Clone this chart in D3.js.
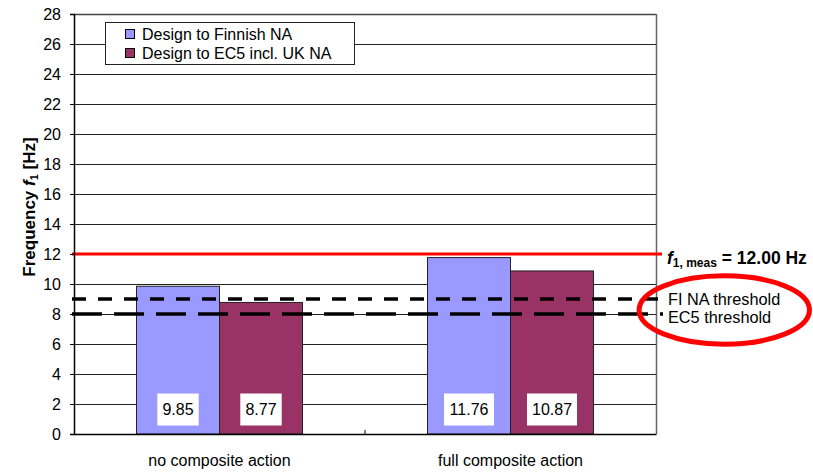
<!DOCTYPE html>
<html>
<head>
<meta charset="utf-8">
<script src="https://cdn.jsdelivr.net/npm/d3@7"></script>
<style>
  html, body { margin: 0; padding: 0; background: #fff; }
  svg { display: block; font-family: Arial, "Liberation Sans", sans-serif; }
</style>
</head>
<body>
<svg id="chart" width="813" height="472"></svg>
<script>
// Natural frequency f1 of the floor for two design approaches
const categories = ["no composite action", "full composite action"];
const seriesNames = ["Design to Finnish NA", "Design to EC5 incl. UK NA"];
const finnishValues = [9.85, 11.76];
const ec5Values = [8.77, 10.87];
const yTicks = [0, 2, 4, 6, 8, 10, 12, 14, 16, 18, 20, 22, 24, 26, 28];
const measuredFrequency = 12.00;
const fiThreshold = 9;
const ec5Threshold = 8;
const thresholdLabels = ["FI NA threshold", "EC5 threshold"];

const seriesColors = ["#9999FF", "#993366"];
const values = [finnishValues, ec5Values];

const svg = d3.select("#chart");
const plotLeft = 74, plotRight = 656, plotTop = 14, plotBottom = 434;

const y = d3.scaleLinear().domain([0, 28]).range([plotBottom, plotTop]);
const x0 = d3.scaleBand().domain(categories).range([plotLeft, plotRight]).paddingInner(0).paddingOuter(0);
const groupWidth = 166;
const x1 = d3.scaleBand().domain(seriesNames).range([0, groupWidth]);
const groupX = c => x0(c) + (x0.bandwidth() - groupWidth) / 2;

// Horizontal gridlines
svg.append("g")
  .selectAll("line")
  .data(yTicks.filter(t => t > 0))
  .join("line")
  .attr("x1", plotLeft).attr("x2", plotRight)
  .attr("y1", d => Math.round(y(d)) + 0.5).attr("y2", d => Math.round(y(d)) + 0.5)
  .attr("stroke", d => d === 28 ? "#444" : "#222")
  .attr("stroke-width", d => d === 28 ? 1.5 : 1);

// Right frame edge
svg.append("line")
  .attr("x1", plotRight + 0.5).attr("x2", plotRight + 0.5)
  .attr("y1", plotTop).attr("y2", plotBottom)
  .attr("stroke", "#666").attr("stroke-width", 1.5);

// Bars
const barData = [];
categories.forEach((c, i) => {
  seriesNames.forEach((s, j) => barData.push({ cat: c, series: s, idx: j, value: values[j][i] }));
});

svg.append("g")
  .selectAll("rect")
  .data(barData)
  .join("rect")
  .attr("x", d => groupX(d.cat) + x1(d.series))
  .attr("y", d => y(d.value))
  .attr("width", x1.bandwidth())
  .attr("height", d => y(0) - y(d.value))
  .attr("fill", d => seriesColors[d.idx])
  .attr("stroke", "#222")
  .attr("stroke-width", 1);

// Value labels in white boxes
const labelG = svg.append("g")
  .selectAll("g")
  .data(barData)
  .join("g")
  .attr("transform", d => `translate(${groupX(d.cat) + x1(d.series) + x1.bandwidth() / 2},${409.5})`);

labelG.append("rect")
  .attr("x", d => -(d.value.toFixed(2).length * 4.3 + 3.5))
  .attr("y", -16)
  .attr("width", d => 2 * (d.value.toFixed(2).length * 4.3 + 3.5))
  .attr("height", 32)
  .attr("fill", "#fff");

labelG.append("text")
  .attr("text-anchor", "middle")
  .attr("dy", "0.35em")
  .attr("font-size", 16)
  .attr("fill", "#000")
  .text(d => d.value.toFixed(2));

// Measured frequency line
svg.append("line")
  .attr("x1", 72).attr("x2", 662)
  .attr("y1", y(measuredFrequency)).attr("y2", y(measuredFrequency))
  .attr("stroke", "#FF0000").attr("stroke-width", 3);

// Threshold lines
svg.append("line")
  .attr("x1", 72).attr("x2", 663)
  .attr("y1", y(fiThreshold)).attr("y2", y(fiThreshold))
  .attr("stroke", "#000").attr("stroke-width", 3.5)
  .attr("stroke-dasharray", "14 12");

svg.append("line")
  .attr("x1", 72).attr("x2", 663)
  .attr("y1", y(ec5Threshold)).attr("y2", y(ec5Threshold))
  .attr("stroke", "#000").attr("stroke-width", 3.5)
  .attr("stroke-dasharray", "30 12");

// Y axis
const yAxis = d3.axisLeft(y).tickValues(yTicks).tickSize(4).tickPadding(9).tickFormat(d3.format("d"));
const yG = svg.append("g").attr("transform", `translate(${plotLeft},0)`).call(yAxis);
yG.select(".domain").attr("stroke", "#000").attr("stroke-width", 1.5);
yG.selectAll(".tick line").attr("stroke", "#000");
yG.selectAll(".tick text").attr("font-size", 16).attr("font-family", "Arial, 'Liberation Sans', sans-serif").attr("fill", "#000");

// X axis
const xAxis = d3.axisBottom(x0).tickSize(0).tickPadding(0);
const xG = svg.append("g").attr("transform", `translate(0,${plotBottom})`).call(xAxis);
xG.select(".domain").attr("stroke", "#000").attr("stroke-width", 1.5);
xG.selectAll(".tick text")
  .attr("font-size", 16)
  .attr("font-family", "Arial, 'Liberation Sans', sans-serif")
  .attr("fill", "#000")
  .attr("y", 32)
  .attr("dy", 0);

// Category separator ticks pointing up into the plot
svg.append("g")
  .selectAll("line")
  .data(categories.slice(1))
  .join("line")
  .attr("x1", d => x0(d)).attr("x2", d => x0(d))
  .attr("y1", plotBottom).attr("y2", plotBottom - 4)
  .attr("stroke", "#000");

// Y axis title
const yTitle = svg.append("text")
  .attr("transform", `translate(35,207) rotate(-90)`)
  .attr("text-anchor", "middle")
  .attr("font-size", 17)
  .attr("font-weight", "bold")
  .attr("fill", "#000");
yTitle.append("tspan").text("Frequency ");
yTitle.append("tspan").attr("font-style", "italic").text("f");
yTitle.append("tspan").attr("font-size", 11).attr("dy", 3).text("1");
yTitle.append("tspan").attr("dy", -3).text(" [Hz]");

// Legend
const legend = svg.append("g");
legend.append("rect")
  .attr("x", 105.5).attr("y", 22.5).attr("width", 249).attr("height", 42)
  .attr("fill", "#fff").attr("stroke", "#222").attr("stroke-width", 1);
seriesNames.forEach((s, i) => {
  legend.append("rect")
    .attr("x", 125.5).attr("y", 29.5 + i * 19).attr("width", 9).attr("height", 9)
    .attr("fill", seriesColors[i]).attr("stroke", "#000").attr("stroke-width", 1);
  legend.append("text")
    .attr("x", 142).attr("y", 40 + i * 19)
    .attr("font-size", 16).attr("fill", "#000")
    .text(s);
});

// Label for the measured frequency line
const fLabel = svg.append("text")
  .attr("x", 667).attr("y", 263.5)
  .attr("font-size", 17.5).attr("font-weight", "bold").attr("fill", "#000");
fLabel.append("tspan").attr("font-style", "italic").text("f");
fLabel.append("tspan").attr("font-size", 12).attr("dy", 3).text("1, meas");
fLabel.append("tspan").attr("dy", -3).text(" = " + measuredFrequency.toFixed(2) + " Hz");

// Threshold labels
svg.append("g")
  .selectAll("text")
  .data(thresholdLabels)
  .join("text")
  .attr("x", 668)
  .attr("y", (d, i) => 304.5 + i * 18)
  .attr("font-size", 16.3)
  .attr("fill", "#000")
  .text(d => d);

// Highlight ellipse around the threshold labels
svg.append("ellipse")
  .attr("cx", 724.3).attr("cy", 310)
  .attr("rx", 85.2).attr("ry", 34.2)
  .attr("fill", "none")
  .attr("stroke", "#FF0000")
  .attr("stroke-width", 5);
</script>
</body>
</html>
